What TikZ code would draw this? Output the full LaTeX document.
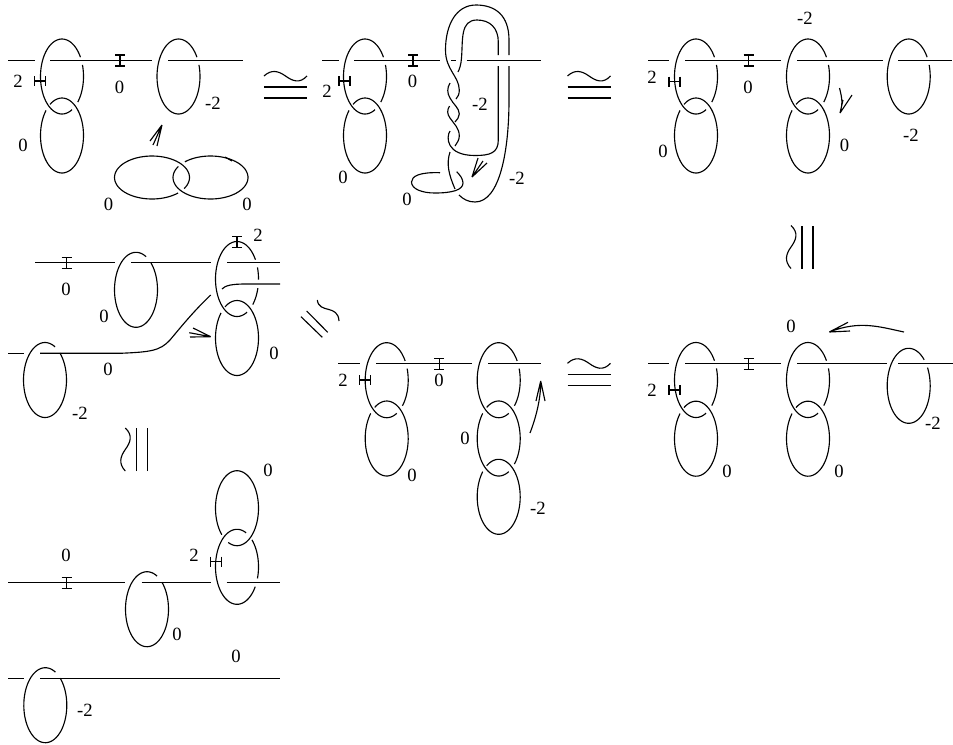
\documentclass[tikz,border=0pt]{standalone}
\usepackage{fontspec}
\setmainfont{Liberation Serif}
\tikzset{
  link/.style={line width=0.85pt},
  lab/.style={inner sep=0pt, font=\fontsize{14}{14}\selectfont}
}
% arcs of an ellipse, angles run clockwise on the page
\newcommand{\ellarc}[6]{\draw[link] plot[domain=#5:#6, samples=70, smooth] ({#1+#3*cos(\x)},{#2+#4*sin(\x)});}
\newcommand{\ringarc}[4]{\ellarc{#1}{#2}{21.5}{37.5}{#3}{#4}}
\newcommand{\ringtop}[2]{\ringarc{#1}{#2}{-18}{43}\ringarc{#1}{#2}{62}{329}}
\newcommand{\ringlow}[2]{\ringarc{#1}{#2}{236}{582}}
\newcommand{\ringmid}[2]{\ringarc{#1}{#2}{236}{403}\ringarc{#1}{#2}{422}{582}}
\newcommand{\itick}[2]{\draw[link] (#1,#2-5.5) -- (#1,#2+5.5) (#1-5,#2-5.5) -- (#1+5,#2-5.5) (#1-5,#2+5.5) -- (#1+5,#2+5.5);}
\newcommand{\htick}[2]{\draw[link] (#1-5.5,#2) -- (#1+5.5,#2) (#1-5.5,#2-5) -- (#1-5.5,#2+5) (#1+5.5,#2-5) -- (#1+5.5,#2+5);}
\newcommand{\congsym}[3]{\begin{scope}[shift={(#1,#2)}, rotate=#3]
  \draw[link] (-21.5,0) -- (21.5,0) (-21.5,11) -- (21.5,11);
  \draw[link] (-21.5,-11) .. controls (-14,-18) and (-7,-16) .. (0,-11) .. controls (7,-6) and (14,-3) .. (21.5,-11);
\end{scope}}

\begin{document}
\begin{tikzpicture}[x=0.75pt, y=-0.75pt]
  \useasboundingbox (0,0) rectangle (953,744);

  % First diagram
  \draw[link] (8,60.5) -- (35,60.5) (50,60.5) -- (152,60.5) (168,60.5) -- (242.5,60.5);
  \ringtop{62}{76.5}
  \ringlow{62}{135.5}
  \ringarc{178.5}{76.5}{-18}{329}
  \itick{120}{60.5}
  \htick{40}{81}
  \ellarc{152}{177.5}{37.5}{21.5}{46}{391}
  \ellarc{210.5}{177.5}{37.5}{21.5}{227}{571}
  \draw[link] (225,157) -- (232,161);
  \draw[link] (162,125) -- (150,141) (162,125) -- (153,145) (162,125) -- (157,146);
  \node[lab] (twoA) at (18,81) {2};
  \node[lab] (zeroA) at (119.5,87) {0};
  \node[lab] (minusA) at (213,103) {-2};
  \node[lab] (zeroB) at (23,145) {0};
  \node[lab] (zeroC) at (108.5,204) {0};
  \node[lab] (zeroD) at (247,204) {0};
  \congsym{285.5}{87}{0}

  % Second diagram
  \draw[link] (322,60.5) -- (339,60.5) (354,60.5) -- (439.7,60.5) (451,60.5) -- (456,60.5) (466.7,60.5) -- (541,60.5);
  \ringtop{365}{76.5}
  \ringlow{365}{135.5}
  \itick{413}{60.5}
  \htick{344.5}{81}
  % twisted band
  \draw[link] (509,55) -- (509,40) .. controls (509,15) and (495,5) .. (476,5) .. controls (456,5) and (445.5,25) .. (445.5,50) .. controls (445.5,70) and (459,76) .. (459.3,90) .. controls (459.3,94) and (458,97) .. (456,99);
  \draw[link] (449.5,106) .. controls (447,110) and (447,114) .. (450,118) .. controls (454,124) and (459.3,128) .. (459.3,136) .. controls (459.3,140) and (457,143) .. (455,146);
  \draw[link] (450,152) .. controls (446,164) and (449,175) .. (455,189);
  \draw[link] (498.3,55) -- (498.3,42) .. controls (498.3,28) and (490,20) .. (477,20) .. controls (460,20) and (463,40) .. (461.5,58) .. controls (461,65) and (459.5,69) .. (458,72);
  \draw[link] (450,83) .. controls (447,88) and (447,93) .. (450,98) .. controls (453,104) and (459.3,108) .. (459.3,114) .. controls (459.3,117) and (457,120) .. (455,122);
  \draw[link] (450,131) .. controls (446,137) and (446,155.5) .. (475,155.5) .. controls (490,155.5) and (498.3,153) .. (498.3,140) -- (498.3,66);
  \draw[link] (509,66) -- (509,100) .. controls (509,150) and (500,202) .. (475,202) .. controls (468,202) and (463,199) .. (459,195);
  \draw[link] (440,172.7) .. controls (420,172) and (411.5,176) .. (411.5,182) .. controls (411.5,189) and (422,193) .. (435,193) .. controls (452,193) and (463,190) .. (463,183) .. controls (463,179) and (460,175) .. (456.7,171.7);
  \draw[link] (472,177) -- (478,158) (472,177) -- (483,161) (472,177) -- (487,163);
  \node[lab] (twoB) at (327,91) {2};
  \node[lab] (zeroE) at (412.5,81) {0};
  \node[lab] (zeroF) at (343,177) {0};
  \node[lab] (minusB) at (480,104) {-2};
  \node[lab] (minusC) at (517,178) {-2};
  \node[lab] (zeroG) at (407,199) {0};
  \congsym{589}{87}{0}

  % Third diagram
  \draw[link] (648,60.5) -- (669,60.5) (685,60.5) -- (781,60.5) (797,60.5) -- (882.5,60.5) (898,60.5) -- (952,60.5);
  \ringtop{696}{76.5}
  \ringlow{696}{135.5}
  \ringtop{808}{76.5}
  \ringlow{808}{135.5}
  \ringarc{908.7}{76.5}{-18}{329}
  \itick{748.5}{60.5}
  \htick{674.5}{81.5}
  \draw[link] (839.5,88) .. controls (842,98) and (843,103) .. (840,113) (852,95) -- (840,113) (843,100) -- (840,113);
  \node[lab] (twoC) at (652,77) {2};
  \node[lab] (zeroH) at (748,87) {0};
  \node[lab] (zeroI) at (663,151) {0};
  \node[lab] (minusD) at (805,18) {-2};
  \node[lab] (zeroJ) at (844.5,145) {0};
  \node[lab] (minusE) at (911,135) {-2};
  \congsym{802}{247}{90}

  % Right diagram, second row
  \draw[link] (648,363.7) -- (669,363.7) (685,363.7) -- (781,363.7) (797,363.7) -- (887,363.7) (898,363.7) -- (953,363.7);
  \ringtop{696}{380}
  \ringlow{696}{438.7}
  \ringtop{808}{380}
  \ringlow{808}{438.7}
  \ringarc{908.7}{385.8}{-29}{316}
  \itick{748.5}{363.7}
  \htick{674.5}{390}
  \draw[link] (904,332) .. controls (880,327) and (860,320) .. (829.3,332) (829.3,332) -- (848,322.3) (829.3,332) -- (850,331);
  \node[lab] (twoD) at (652,390) {2};
  \node[lab] (zeroK) at (791,326) {0};
  \node[lab] (zeroL) at (727,471) {0};
  \node[lab] (zeroM) at (839,471) {0};
  \node[lab] (minusF) at (933,423) {-2};

  % Middle diagram
  \draw[link] (338,363.7) -- (360,363.7) (376,363.7) -- (472,363.7) (488,363.7) -- (541,363.7);
  \ringtop{386.7}{380.2}
  \ringlow{386.7}{438.5}
  \ringtop{498.7}{380.2}
  \ringmid{498.7}{438.5}
  \ringlow{498.7}{496.8}
  \itick{439.3}{363.7}
  \htick{365}{380}
  \draw[link] (530,433) .. controls (535,420) and (541,400) .. (540.7,381) (540.7,381) -- (536,401) (540.7,381) -- (545,401);
  \node[lab] (twoE) at (343,380) {2};
  \node[lab] (zeroN) at (439,380) {0};
  \node[lab] (zeroO) at (412,475) {0};
  \node[lab] (zeroP) at (465,438) {0};
  \node[lab] (minusG) at (538,508) {-2};
  \congsym{589}{374.3}{0}

  % Left diagram, second row
  \draw[link] (35,262.7) -- (115,262.7) (131,262.7) -- (211,262.7) (227,262.7) -- (280,262.7);
  \draw[link] (222,289) .. controls (225,285.5) and (232,284) .. (245,284) -- (280,284);
  \draw[link] (8,353.3) -- (24,353.3);
  \draw[link] (40,353.3) -- (120,353.3) .. controls (150,352) and (160,351) .. (170,340) .. controls (185,322) and (195,310) .. (210.7,295);
  \ringarc{136}{289.8}{-46}{298}
  \ringarc{237}{279}{-18}{1}
  \ringarc{237}{279}{14}{43}
  \ringarc{237}{279}{62}{329}
  \ringlow{237}{338}
  \ringarc{45}{380}{-46}{298}
  \itick{66.7}{262.7}
  \itick{237}{241.7}
  \draw[link] (210.7,336.7) -- (189.3,332.7) (210.7,336.7) -- (190,337) (210.7,336.7) -- (193,328);
  \node[lab] (twoF) at (258,235) {2};
  \node[lab] (zeroQ) at (66,289) {0};
  \node[lab] (zeroR) at (104,316) {0};
  \node[lab] (zeroS) at (108,369) {0};
  \node[lab] (minusH) at (80,413) {-2};
  \node[lab] (zeroT) at (274,353) {0};

  % Equivalence between the second row diagrams
  \draw[link] (301,316.7) -- (322.3,337.3) (306.7,311) -- (327.7,332.3);
  \draw[link] (317.3,300) .. controls (319,314) and (338,304) .. (339,321);
  \congsym{136.3}{449.5}{90}

  % Bottom diagram
  \draw[link] (8,582.3) -- (125,582.3) (141.7,582.3) -- (211,582.3) (226.7,582.3) -- (280,582.3);
  \draw[link] (8,678.7) -- (24,678.7) (40,678.7) -- (280,678.7);
  \ringarc{237}{508.2}{135}{474}
  \ringarc{237}{566.8}{-46}{18}
  \ringarc{237}{566.8}{32}{295}
  \ringarc{147}{609.2}{-46}{298}
  \ringarc{45.3}{705.2}{-46}{298}
  \itick{66.7}{582.8}
  \htick{216}{561.7}
  \node[lab] (zeroU) at (66,555) {0};
  \node[lab] (twoG) at (194,555) {2};
  \node[lab] (zeroV) at (268,470) {0};
  \node[lab] (zeroW) at (177,634) {0};
  \node[lab] (zeroX) at (236,656) {0};
  \node[lab] (minusI) at (85,710) {-2};
\end{tikzpicture}
\end{document}
